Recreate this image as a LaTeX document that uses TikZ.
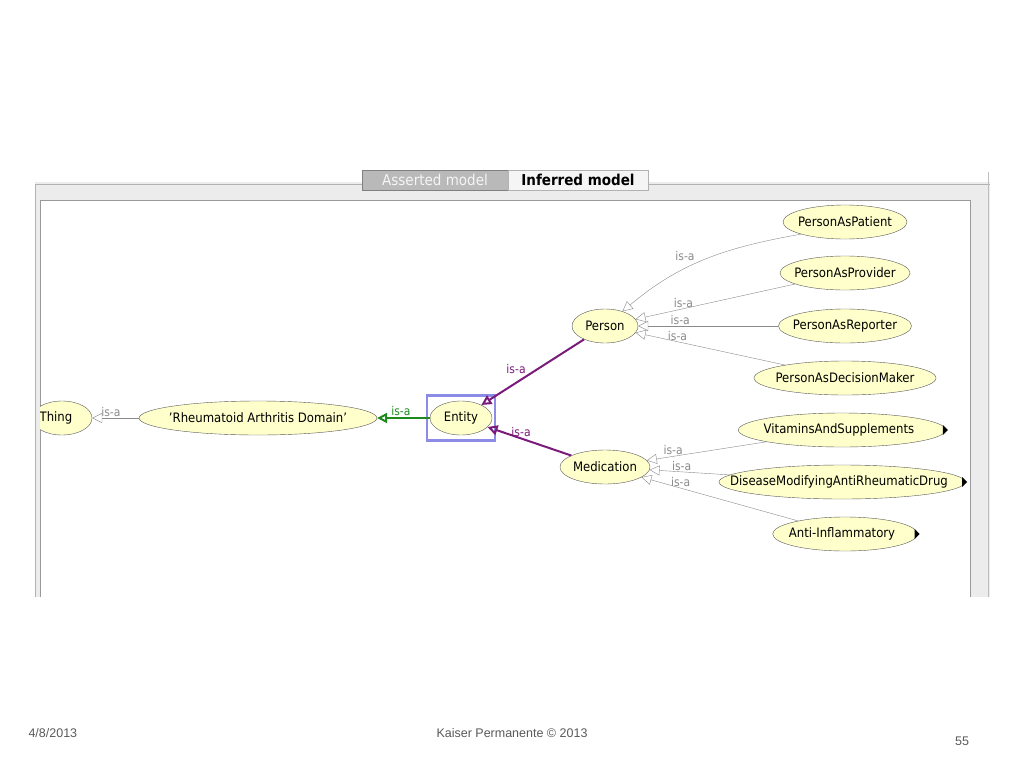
\documentclass[tikz,border=0pt]{standalone}
\usepackage{fontspec}
\setmainfont{DejaVu Sans Condensed}
\newfontfamily\footfont{Liberation Sans}
\usetikzlibrary{arrows.meta,shapes.geometric}
\definecolor{cls}{HTML}{FFFFCC}
\definecolor{isagray}{HTML}{8A8A8A}
\definecolor{isapurple}{HTML}{7A1A7A}
\definecolor{isagreen}{HTML}{1E8A1E}
\definecolor{selblue}{HTML}{8C8CE6}
\begin{document}
\begin{tikzpicture}[
    x=1pt, y=-1pt,
    every node/.style={font=\fontsize{13}{15}\selectfont},
    cls/.style={ellipse, draw=gray!70!black, fill=cls, inner xsep=-5pt, inner ysep=0pt, minimum height=34pt},
    isa/.style={draw=isagray, -{Triangle[open, length=10pt, width=10pt]}},
    isa label/.style={font=\fontsize{12}{14}\selectfont, text=isagray, inner sep=1pt},
    foot/.style={text=gray!70!black, font=\footfont\fontsize{12.5}{14}\selectfont},
    more/.style={fill=black}
]
\useasboundingbox (0,0) rectangle (1024,768);
% panel
\fill[gray!15] (35,182) rectangle (990,597);
\draw[gray!60] (35,597) -- (35,184) -- (990,184);
\fill[white] (40,200) rectangle (970,597);
\draw[gray!80] (40,597) -- (40,200) -- (970,200) -- (970,597);
\draw[gray!50] (988,172) -- (988,597);
% tabs
\node[fill=gray!55, draw=gray, text=gray!8, minimum width=146pt, minimum height=20pt, inner sep=0pt,
      font=\fontsize{15}{17}\selectfont] (tabA) at (435,180) {Asserted model};
\node[fill=gray!8, draw=gray!60, minimum width=140pt, minimum height=20pt, inner sep=0pt,
      font=\bfseries\fontsize{15}{17}\selectfont] (tabI) at (578,180) {Inferred model};
% classes
\begin{scope}
\clip (40,200) rectangle (970,597);
\node[cls, minimum width=60pt] (thing) at (62,418) {\hspace*{-12pt}Thing};
\end{scope}
\node[cls, minimum width=205pt] (rad) at (258,418) {'Rheumatoid Arthritis Domain'};
\node[cls, minimum width=62pt] (entity) at (461,418) {Entity};
\node[draw=selblue, line width=2.5pt, minimum width=68pt, minimum height=45pt] (sel) at (461,418) {};
\node[cls, minimum width=66pt] (person) at (605,326) {Person};
\node[cls, minimum width=90pt] (med) at (605,467) {Medication};
\node[cls, minimum width=124pt] (pat) at (845,222) {PersonAsPatient};
\node[cls, minimum width=130pt] (prov) at (845,273) {PersonAsProvider};
\node[cls, minimum width=132pt] (rep) at (845,326) {PersonAsReporter};
\node[cls, minimum width=168pt] (dec) at (845,378) {PersonAsDecisionMaker};
\node[cls, minimum width=178pt] (vit) at (842,430) {VitaminsAndSupplements\hspace*{6pt}};
\node[cls, minimum width=246pt, inner xsep=-28pt] (dmard) at (842,482) {DiseaseModifyingAntiRheumaticDrug\hspace*{6pt}};
\node[cls, minimum width=136pt] (anti) at (845,534) {Anti-Inflammatory\hspace*{6pt}};
% expand markers
\foreach \n in {vit, dmard, anti}
  \fill[more] ([xshift=-3pt]\n.east) ++(0,-5) -- ++(5,5) -- ++(-5,5) -- cycle;
% edges
\draw[isa] (rad) -- (thing) node[isa label, pos=0.6, above] {is-a};
\draw[isa, draw=isagreen, line width=2pt] (entity) -- (rad) node[isa label, text=isagreen, pos=0.55, above] {is-a};
\draw[isa, draw=isapurple, line width=2pt] (person) -- (entity) node[isa label, text=isapurple, pos=0.55, above left] {is-a};
\draw[isa, draw=isapurple, line width=2pt] (med) -- (entity) node[isa label, text=isapurple, pos=0.6, above] {is-a};
\draw[isa] (pat.south west) to[out=190, in=40] (person) ;
\node[isa label] (l1) at (685,256) {is-a};
\draw[isa] (prov) -- (person) node[isa label, pos=0.7, above] {is-a};
\draw[isa] (rep) -- (person) node[isa label, pos=0.7, above] {is-a};
\draw[isa] (dec) -- (person) node[isa label, pos=0.72, above] {is-a};
\draw[isa] (vit) -- (med) node[isa label, pos=0.78, above] {is-a};
\draw[isa] (dmard) -- (med) node[isa label, pos=0.6, above] {is-a};
\draw[isa] (anti) -- (med) node[isa label, pos=0.75, above] {is-a};
% footer
\node[foot, anchor=west] (date) at (25,733) {4/8/2013};
\node[foot] (kp) at (512,733) {Kaiser Permanente © 2013};
\node[foot] (page) at (962,741) {55};
\end{tikzpicture}
\end{document}
